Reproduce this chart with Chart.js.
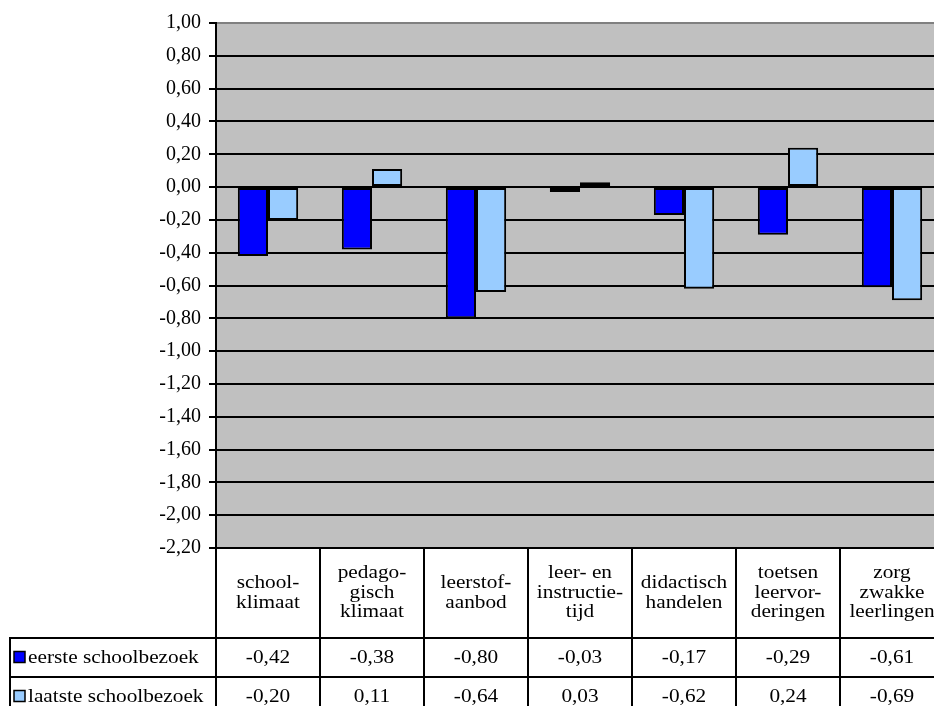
<!DOCTYPE html>
<html>
<head>
<meta charset="utf-8">
<script src="https://cdn.jsdelivr.net/npm/chart.js@4/dist/chart.umd.min.js"></script>
<style>
    html, body { margin: 0; padding: 0; background: #fff; overflow: hidden; width: 934px; height: 706px; }
    canvas { display: block; }
</style>
</head>
<body>
<canvas id="chart" width="944" height="706"></canvas>
<script>
// Chart data
const categories = [
    ['school-', 'klimaat'],
    ['pedago-', 'gisch', 'klimaat'],
    ['leerstof-', 'aanbod'],
    ['leer- en', 'instructie-', 'tijd'],
    ['didactisch', 'handelen'],
    ['toetsen', 'leervor-', 'deringen'],
    ['zorg', 'zwakke', 'leerlingen']
];
const seriesNames = ['eerste schoolbezoek', 'laatste schoolbezoek'];
const eersteValues = [-0.42, -0.38, -0.80, -0.03, -0.17, -0.29, -0.61];
const laatsteValues = [-0.20, 0.11, -0.64, 0.03, -0.62, 0.24, -0.69];
const seriesColors = ['#0000ff', '#99ccff'];

const FONT = "'Liberation Serif', 'Times New Roman', serif";
const SX = 1.12; // horizontal text stretch of the original

// Format number with a decimal comma
function formatValue(v) {
    if (Math.abs(v) < 1e-9) v = 0;
    return v.toFixed(2).replace('.', ',');
}

function stretchText(ctx, text, x, y, align) {
    ctx.save();
    ctx.translate(x, y);
    ctx.scale(SX, 1);
    ctx.textAlign = align;
    ctx.fillText(text, 0, 0);
    ctx.restore();
}

// Gray plot background
const plotBackground = {
    id: 'plotBackground',
    beforeDraw(chart) {
        const { ctx, chartArea: a } = chart;
        ctx.save();
        ctx.fillStyle = '#c0c0c0';
        ctx.fillRect(a.left, a.top, a.right - a.left, a.bottom - a.top);
        ctx.restore();
    }
};

// Data table under the plot
const dataTable = {
    id: 'dataTable',
    afterDraw(chart) {
        const { ctx, chartArea: a } = chart;
        const n = categories.length;
        const colW = (a.right - a.left) / n;
        const headerH = 90;
        const rowH = 39;
        const tableLeft = 10;
        const rows = [eersteValues, laatsteValues];
        const y0 = a.bottom;
        const y1 = y0 + headerH;
        const yEnd = y1 + rowH * rows.length;

        ctx.save();
        ctx.strokeStyle = '#000';
        ctx.lineWidth = 2;
        ctx.beginPath();
        for (let i = 0; i <= n; i++) {
            const x = Math.round(a.left + i * colW);
            ctx.moveTo(x, y0);
            ctx.lineTo(x, yEnd);
        }
        ctx.moveTo(tableLeft, y1);
        ctx.lineTo(tableLeft, yEnd);
        for (let r = 0; r <= rows.length; r++) {
            const y = y1 + r * rowH;
            ctx.moveTo(tableLeft - 1, y);
            ctx.lineTo(a.right, y);
        }
        ctx.stroke();

        ctx.fillStyle = '#000';
        ctx.font = '19px ' + FONT;
        ctx.textBaseline = 'middle';

        // Category header
        const lineH = 19.5;
        categories.forEach((lines, i) => {
            const cx = chart.scales.x.getPixelForValue(i);
            const startY = y0 + headerH / 2 - (lines.length - 1) * lineH / 2;
            lines.forEach((t, k) => stretchText(ctx, t, cx, startY + k * lineH, 'center'));
        });

        // Rows with legend keys and values
        rows.forEach((vals, r) => {
            const cy = y1 + r * rowH + rowH / 2;
            ctx.fillStyle = seriesColors[r];
            ctx.fillRect(14, cy - 6, 11, 11);
            ctx.lineWidth = 1.5;
            ctx.strokeRect(14, cy - 6, 11, 11);
            ctx.fillStyle = '#000';
            stretchText(ctx, seriesNames[r], 28, cy + 1, 'left');
            vals.forEach((v, i) => {
                const cx = chart.scales.x.getPixelForValue(i);
                stretchText(ctx, formatValue(v), cx, cy + 1, 'center');
            });
        });
        ctx.restore();
    }
};

function createChart() {
    const ctx = document.getElementById('chart').getContext('2d');
    new Chart(ctx, {
        type: 'bar',
        data: {
            labels: categories.map(c => c.join(' ')),
            datasets: [
                {
                    label: seriesNames[0],
                    data: eersteValues,
                    backgroundColor: seriesColors[0],
                    borderColor: '#000',
                    borderWidth: 2,
                    borderSkipped: false
                },
                {
                    label: seriesNames[1],
                    data: laatsteValues,
                    backgroundColor: seriesColors[1],
                    borderColor: '#000',
                    borderWidth: 2,
                    borderSkipped: false
                }
            ]
        },
        options: {
            responsive: false,
            animation: false,
            layout: {
                padding: { top: 23, bottom: 158, left: 0, right: 0 }
            },
            plugins: {
                legend: { display: false },
                tooltip: { enabled: false }
            },
            datasets: {
                bar: { categoryPercentage: 0.58, barPercentage: 1 }
            },
            scales: {
                x: {
                    display: false
                },
                y: {
                    min: -2.2,
                    max: 1.0,
                    afterFit: scale => { scale.width = 216; },
                    border: { color: '#000', width: 2 },
                    grid: {
                        color: c => (c.tick && Math.abs(c.tick.value - 1) < 1e-9) ? '#808080' : '#000',
                        lineWidth: 2,
                        tickColor: '#000',
                        tickLength: 7
                    },
                    ticks: {
                        stepSize: 0.2,
                        padding: 8,
                        color: '#000',
                        font: { family: FONT, size: 20 },
                        callback: value => formatValue(value)
                    }
                }
            }
        },
        plugins: [plotBackground, dataTable]
    });
}

createChart();
</script>
</body>
</html>
